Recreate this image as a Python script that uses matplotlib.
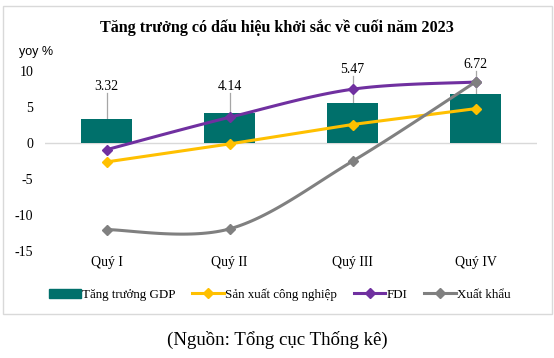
import numpy as np
import matplotlib
matplotlib.use("Agg")
import matplotlib.pyplot as plt
from matplotlib.patches import Rectangle
from matplotlib.lines import Line2D

plt.rcParams["axes.unicode_minus"] = False

# ---- data ----
quarters = ["Quý I", "Quý II", "Quý III", "Quý IV"]
gdp = [3.32, 4.14, 5.47, 6.72]
cong_nghiep = [-2.7, -0.2, 2.5, 4.7]
fdi = [-1.0, 3.5, 7.4, 8.4]
xuat_khau = [-12.1, -12.0, -2.6, 8.4]
gdp_label_y = [7.8, 7.8, 10.1, 10.9]

C_GDP = "#00706B"
C_CN = "#FFC000"
C_FDI = "#7030A0"
C_XK = "#808080"
SERIF = "Liberation Serif"


def smooth(xs, ys, n=40):
    # Excel-style smoothed line (cardinal bezier through the points)
    xs = np.asarray(xs, float)
    ys = np.asarray(ys, float)
    px, py = [], []
    for i in range(len(xs) - 1):
        x0, y0 = xs[max(i - 1, 0)], ys[max(i - 1, 0)]
        x1, y1 = xs[i], ys[i]
        x2, y2 = xs[i + 1], ys[i + 1]
        x3, y3 = xs[min(i + 2, len(xs) - 1)], ys[min(i + 2, len(xs) - 1)]
        t = np.linspace(0, 1, n)
        c1x, c1y = x1 + (x2 - x0) / 6, y1 + (y2 - y0) / 6
        c2x, c2y = x2 - (x3 - x1) / 6, y2 - (y3 - y1) / 6
        bx = (1-t)**3*x1 + 3*(1-t)**2*t*c1x + 3*(1-t)*t**2*c2x + t**3*x2
        by = (1-t)**3*y1 + 3*(1-t)**2*t*c1y + 3*(1-t)*t**2*c2y + t**3*y2
        px.extend(bx)
        py.extend(by)
    return px, py


fig = plt.figure(figsize=(5.54, 3.58), dpi=100)
W, H = 554, 358
ax = fig.add_axes([45 / W, 1 - 250.5 / H, (537 - 45) / W, (250.5 - 70.5) / H])

x = np.arange(len(quarters))
ax.bar(x, gdp, width=0.42, color=C_GDP, zorder=2)

for vals, col, sm in [(cong_nghiep, C_CN, False), (fdi, C_FDI, True), (xuat_khau, C_XK, True)]:
    if sm:
        sx, sy = smooth(x, vals)
    else:
        sx, sy = x, vals
    ax.plot(sx, sy, color=col, lw=2.2, zorder=3, solid_capstyle="round")
    ax.plot(x, vals, ls="none", marker="D", ms=5.5, color=col, zorder=4)

for i, v in enumerate(gdp):
    ax.plot([x[i], x[i]], [v, gdp_label_y[i] - 0.9], color="#A6A6A6", lw=0.9, zorder=1, clip_on=False)
    ax.text(x[i], gdp_label_y[i], f"{v:.2f}", ha="center", va="center",
            fontsize=10, family=SERIF, clip_on=False)

ax.set_xlim(-0.5, 3.5)
ax.set_ylim(-15, 10)
ax.set_yticks([-15, -10, -5, 0, 5, 10])
ax.axhline(0, color="#D9D9D9", lw=1, zorder=1)
for s in ax.spines.values():
    s.set_visible(False)
ax.tick_params(length=0)
ax.set_xticks(x)
ax.set_xticklabels(quarters, fontsize=10, family=SERIF)
ax.tick_params(axis="x", pad=4)
ax.tick_params(axis="y", pad=8.5)
for lab in ax.get_yticklabels():
    lab.set_fontsize(10)
    lab.set_family(SERIF)

# outer box
fig.patches.append(Rectangle((3.5 / W, 1 - 314 / H), (552 - 3.5) / W, (314 - 6) / H,
                             transform=fig.transFigure, fill=False, ec="#D9D9D9", lw=1))

fig.text(277 / W, 1 - 27.5 / H, "Tăng trưởng có dấu hiệu khởi sắc về cuối năm 2023",
         ha="center", va="center", fontsize=11.6, fontweight="bold", family=SERIF)
fig.text(19 / W, 1 - 52 / H, "yoy %", ha="left", va="center", fontsize=9, family="Liberation Sans")

handles = [
    Rectangle((0, 0), 1, 1, color=C_GDP),
    Line2D([], [], color=C_CN, lw=2.2, marker="D", ms=5),
    Line2D([], [], color=C_FDI, lw=2.2, marker="D", ms=5),
    Line2D([], [], color=C_XK, lw=2.2, marker="D", ms=5),
]
labels = ["Tăng trưởng GDP", "Sản xuất công nghiệp", "FDI", "Xuất khẩu"]
fig.legend(handles, labels, loc="center", bbox_to_anchor=(280 / W, 1 - 294.5 / H), ncol=4,
           frameon=False, prop={"family": SERIF, "size": 9.4}, handlelength=2.4,
           handletextpad=0.1, columnspacing=1.3)

fig.text(277 / W, 1 - 339.5 / H, "(Nguồn: Tổng cục Thống kê)", ha="center", va="center",
         fontsize=13.6, family=SERIF)

fig.savefig("out.png", dpi=100)
